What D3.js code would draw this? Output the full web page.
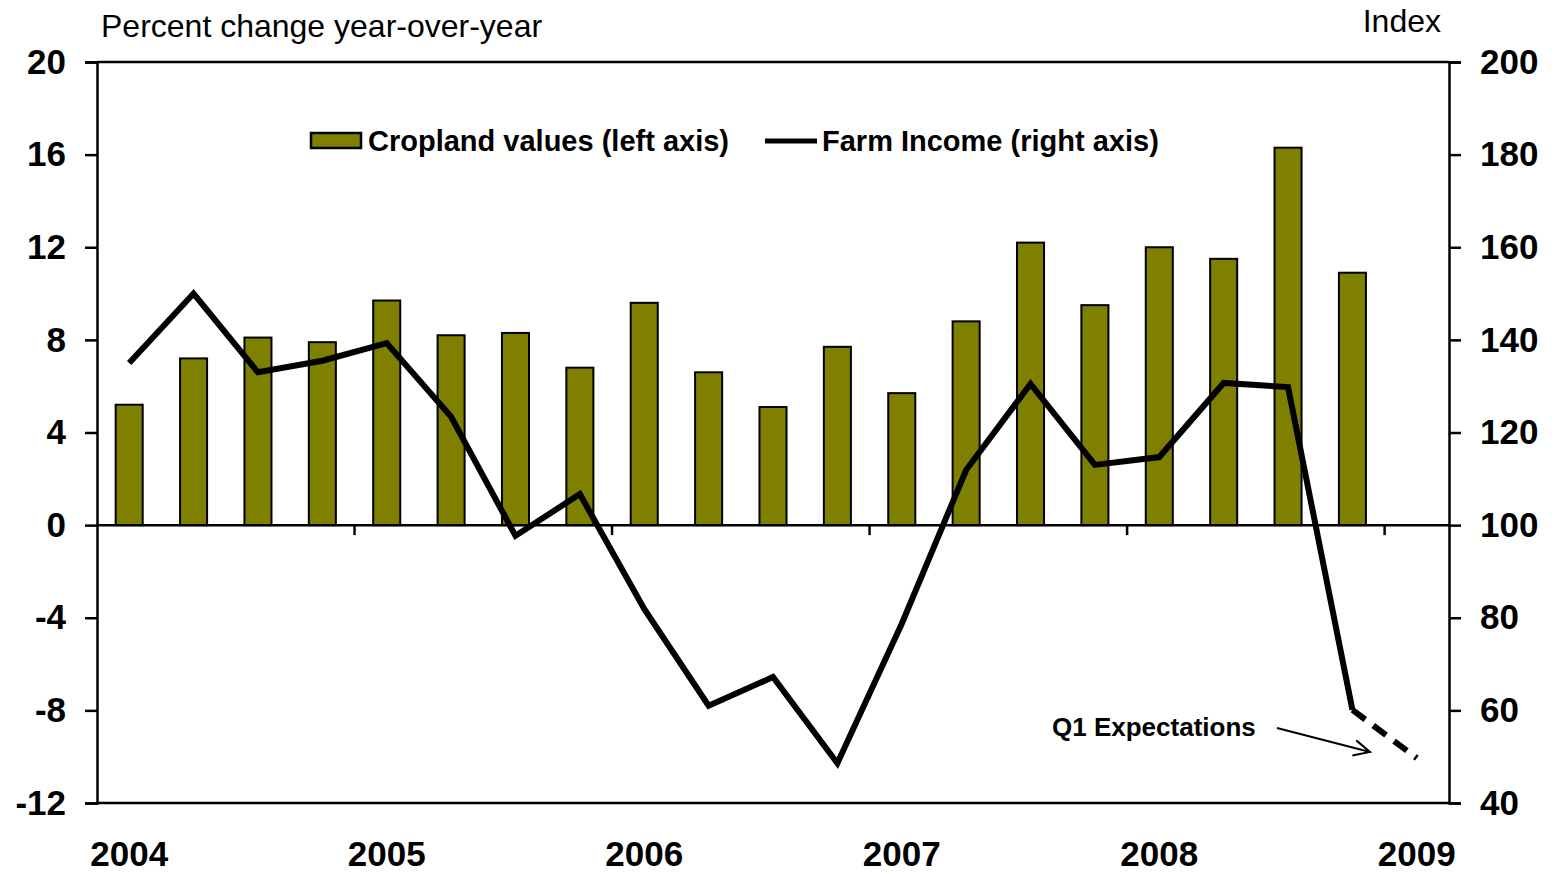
<!DOCTYPE html>
<html>
<head>
<meta charset="utf-8">
<script src="https://cdn.jsdelivr.net/npm/d3@7"></script>
<style>
  body { margin: 0; background: #fff; }
  svg { font-family: "Liberation Sans", Arial, sans-serif; }
</style>
</head>
<body>
<div id="chart"></div>
<script>
// Quarters 2004Q1 .. 2009Q1
const quarters = [
  "2004Q1", "2004Q2", "2004Q3", "2004Q4",
  "2005Q1", "2005Q2", "2005Q3", "2005Q4",
  "2006Q1", "2006Q2", "2006Q3", "2006Q4",
  "2007Q1", "2007Q2", "2007Q3", "2007Q4",
  "2008Q1", "2008Q2", "2008Q3", "2008Q4",
  "2009Q1"
];

// Cropland values, percent change year-over-year (left axis)
const croplandValues = [
  5.2, 7.2, 8.1, 7.9,
  9.7, 8.2, 8.3, 6.8,
  9.6, 6.6, 5.1, 7.7,
  5.7, 8.8, 12.2, 9.5,
  12.0, 11.5, 16.3, 10.9
];

// Farm income index (right axis); last point is the Q1 expectation
const farmIncome = [
  135, 150, 133, 135.5,
  139.3, 123.4, 97.7, 106.7,
  81.9, 61.0, 67.2, 48.6,
  78.7, 111.9, 130.5, 113.0,
  114.7, 130.7, 129.8, 60.1,
  49.7
];

const yearLabels = ["2004", "2005", "2006", "2007", "2008", "2009"];
const leftTicks = [-12, -8, -4, 0, 4, 8, 12, 16, 20];
const rightTicks = [40, 60, 80, 100, 120, 140, 160, 180, 200];

const width = 1557, height = 874;
const margin = { top: 62, right: 108, bottom: 71, left: 97 };

const svg = d3.select("#chart")
  .append("svg")
  .attr("width", width)
  .attr("height", height);

const x = d3.scaleBand()
  .domain(quarters)
  .range([margin.left, width - margin.right]);

const yLeft = d3.scaleLinear()
  .domain([-12, 20])
  .range([height - margin.bottom, margin.top]);

const yRight = d3.scaleLinear()
  .domain([40, 200])
  .range([height - margin.bottom, margin.top]);

const x0 = margin.left, x1 = width - margin.right;
const yTop = margin.top, yBot = height - margin.bottom;

// axis titles
svg.append("text")
  .attr("x", 101).attr("y", 37)
  .attr("font-size", 32)
  .text("Percent change year-over-year");

svg.append("text")
  .attr("x", 1441).attr("y", 32)
  .attr("text-anchor", "end")
  .attr("font-size", 32)
  .text("Index");

// bars
svg.append("g")
  .selectAll("rect")
  .data(croplandValues)
  .enter()
  .append("rect")
  .attr("x", (d, i) => x(quarters[i]) + x.bandwidth() * 0.29)
  .attr("width", x.bandwidth() * 0.42)
  .attr("y", d => yLeft(Math.max(0, d)))
  .attr("height", d => Math.abs(yLeft(d) - yLeft(0)))
  .attr("fill", "#808000")
  .attr("stroke", "#000")
  .attr("stroke-width", 2);

// frame: top and bottom lines
svg.append("line")
  .attr("x1", x0).attr("x2", x1).attr("y1", yTop).attr("y2", yTop)
  .attr("stroke", "#000").attr("stroke-width", 2.5);
svg.append("line")
  .attr("x1", x0).attr("x2", x1).attr("y1", yBot).attr("y2", yBot)
  .attr("stroke", "#000").attr("stroke-width", 2.5);

// left axis (plain hyphen for negatives, as in the original)
const leftAxis = svg.append("g")
  .attr("transform", `translate(${x0},0)`)
  .call(d3.axisLeft(yLeft).tickValues(leftTicks).tickSize(12).tickPadding(19)
    .tickFormat(d => String(d)));

// right axis
const rightAxis = svg.append("g")
  .attr("transform", `translate(${x1},0)`)
  .call(d3.axisRight(yRight).tickValues(rightTicks).tickSize(12).tickPadding(19)
    .tickFormat(d => String(d)));

[leftAxis, rightAxis].forEach(g => {
  g.select(".domain").attr("stroke-width", 2.5);
  g.selectAll(".tick line").attr("stroke-width", 2.5);
  g.selectAll(".tick text")
    .attr("font-family", "Liberation Sans, Arial, sans-serif")
    .attr("font-size", 35)
    .attr("font-weight", "bold")
    .attr("fill", "#000");
});

// zero line with year ticks
const zeroAxis = svg.append("g")
  .attr("transform", `translate(0,${yLeft(0)})`)
  .call(d3.axisBottom(x)
    .tickValues(quarters.filter((q, i) => i % 4 === 0 && i > 0))
    .tickSize(10)
    .tickFormat(""));
zeroAxis.select(".domain").attr("stroke-width", 2.5).attr("d", `M${x0},0H${x1}`);
zeroAxis.selectAll(".tick").attr("transform", d => `translate(${x(d)},0)`);
zeroAxis.selectAll(".tick line").attr("stroke-width", 2.5);

// year labels below plot
svg.append("g")
  .selectAll("text")
  .data(yearLabels)
  .enter()
  .append("text")
  .attr("x", (d, i) => x(quarters[i * 4]) + x.bandwidth() / 2)
  .attr("y", 866)
  .attr("text-anchor", "middle")
  .attr("font-size", 35)
  .attr("font-weight", "bold")
  .text(d => d);

// farm income line
const pts = farmIncome.map((v, i) => [x(quarters[i]) + x.bandwidth() / 2, yRight(v)]);
const line = d3.line();
svg.append("path")
  .attr("d", line(pts.slice(0, 20)))
  .attr("fill", "none")
  .attr("stroke", "#000")
  .attr("stroke-width", 6)
  .attr("stroke-linejoin", "miter");
svg.append("path")
  .attr("d", line(pts.slice(19)))
  .attr("fill", "none")
  .attr("stroke", "#000")
  .attr("stroke-width", 6)
  .attr("stroke-dasharray", "16,10");

// annotation
svg.append("text")
  .attr("x", 1052).attr("y", 736)
  .attr("font-size", 26)
  .attr("font-weight", "bold")
  .text("Q1 Expectations");

const ax0 = 1277, ay0 = 728, ax1 = 1370, ay1 = 752;
svg.append("line")
  .attr("x1", ax0).attr("y1", ay0).attr("x2", ax1).attr("y2", ay1)
  .attr("stroke", "#000").attr("stroke-width", 2);
const ang = Math.atan2(ay1 - ay0, ax1 - ax0);
const ah = 18, aw = 0.45;
svg.append("path")
  .attr("d", `M${ax1 - ah * Math.cos(ang - aw)},${ay1 - ah * Math.sin(ang - aw)}L${ax1},${ay1}L${ax1 - ah * Math.cos(ang + aw)},${ay1 - ah * Math.sin(ang + aw)}`)
  .attr("fill", "none").attr("stroke", "#000").attr("stroke-width", 2);

// legend
const legend = svg.append("g");
legend.append("rect")
  .attr("x", 311).attr("y", 133).attr("width", 50).attr("height", 15)
  .attr("fill", "#808000").attr("stroke", "#000").attr("stroke-width", 2.5);
legend.append("text")
  .attr("x", 368).attr("y", 151)
  .attr("font-size", 29).attr("font-weight", "bold")
  .text("Cropland values (left axis)");
legend.append("line")
  .attr("x1", 765).attr("x2", 817).attr("y1", 141).attr("y2", 141)
  .attr("stroke", "#000").attr("stroke-width", 5);
legend.append("text")
  .attr("x", 822).attr("y", 151)
  .attr("font-size", 29).attr("font-weight", "bold")
  .text("Farm Income (right axis)");
</script>
</body>
</html>
